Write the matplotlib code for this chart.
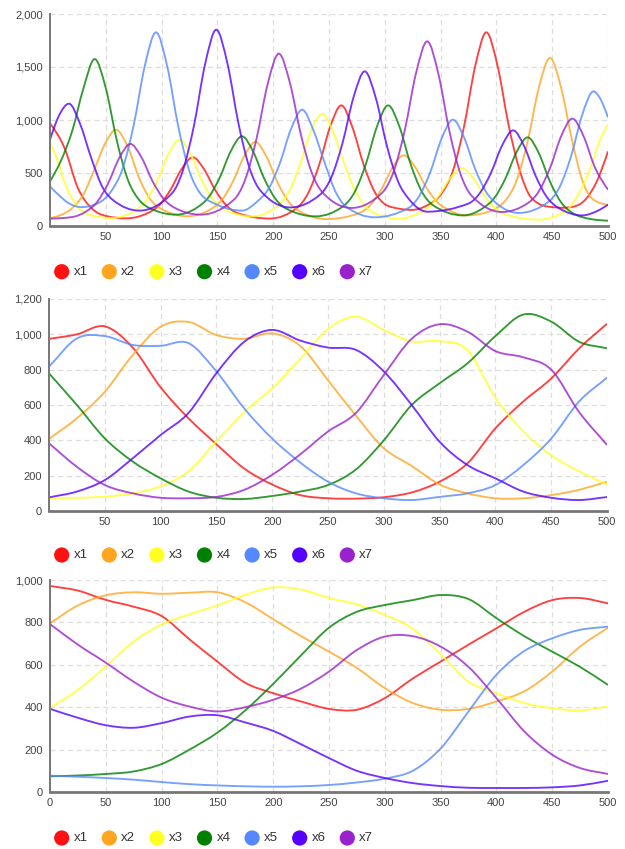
import numpy as np
import matplotlib
matplotlib.use("Agg")
import matplotlib.pyplot as plt
from matplotlib.path import Path
from matplotlib.patches import PathPatch
from matplotlib.ticker import FuncFormatter

plt.rcParams['font.family'] = ['Liberation Sans', 'DejaVu Sans']

names = ['x1', 'x2', 'x3', 'x4', 'x5', 'x6', 'x7']
colors = ['#ff1111', '#ffa520', '#ffff22', '#008000', '#5588ff', '#5500ff', '#9922cc']

########## chart 1 : peaks, each series has its own x points ##########
c1_x1_x = [0, 13, 25, 37, 50, 68, 88, 98, 108, 118, 128, 138, 148, 158, 168, 197, 221, 231, 241, 251, 261, 271,
           281, 291, 301, 312, 324, 338, 351, 361, 371, 381, 391, 401, 411, 421, 431, 445, 460, 470, 481, 490, 500]
c1_x1_y = [968, 736, 358, 170, 95, 72, 124, 197, 342, 538, 648, 536, 340, 195, 122, 70, 169, 303, 571, 935, 1138, 930,
           580, 320, 200, 165, 152, 195, 308, 519, 938, 1508, 1827, 1512, 949, 520, 270, 185, 172, 185, 264, 421, 704]

c1_x2_x = [0, 10, 20, 30, 40, 50, 59, 70, 80, 90, 100, 123, 144, 154, 164, 174, 184, 194, 204, 214, 224, 248,
           277, 287, 297, 307, 317, 327, 337, 347, 357, 373, 390, 408, 418, 428, 438, 448, 458, 468, 478, 488, 500]
c1_x2_y = [75, 105, 170, 300, 540, 790, 909, 740, 450, 250, 160, 92, 158, 246, 421, 659, 792, 654, 408, 227, 136, 65,
           122, 197, 348, 553, 667, 559, 366, 225, 153, 100, 125, 240, 427, 798, 1303, 1585, 1303, 798, 400, 240, 200]

c1_x3_x = [0, 6, 13, 25, 37, 55, 76, 86, 96, 106, 116, 126, 136, 146, 156, 181, 203, 213, 223, 233, 244,
           254, 264, 274, 284, 296, 313, 329, 339, 349, 359, 369, 379, 389, 399, 409, 438, 463, 473, 483, 493, 500]
c1_x3_y = [783, 640, 410, 180, 100, 75, 144, 238, 422, 674, 814, 677, 431, 250, 159, 91, 182, 304, 545, 873, 1057,
           880, 580, 320, 170, 100, 69, 114, 174, 294, 456, 547, 454, 289, 167, 106, 60, 150, 290, 510, 815, 960]

c1_x4_x = [0, 10, 20, 30, 40, 50, 60, 70, 80, 90, 113, 132, 142, 152, 162, 172, 182, 192, 202, 212, 238,
           263, 273, 283, 293, 303, 313, 323, 333, 343, 370, 388, 398, 408, 418, 428, 438, 448, 458, 468, 485, 500]
c1_x4_y = [421, 620, 900, 1300, 1575, 1300, 800, 430, 245, 165, 107, 176, 270, 454, 706, 846, 703, 446, 257, 162, 91,
           189, 321, 583, 939, 1138, 941, 588, 328, 198, 100, 169, 262, 446, 696, 836, 687, 419, 223, 124, 65, 50]

c1_x5_x = [0, 8, 16, 28, 42, 55, 65, 75, 85, 95, 105, 115, 125, 135, 150, 172, 186, 196, 206, 216, 226, 236,
           246, 256, 266, 291, 321, 331, 341, 351, 361, 371, 381, 391, 401, 420, 447, 457, 467, 477, 487, 492, 500]
c1_x5_y = [374, 290, 220, 178, 210, 331, 539, 952, 1513, 1827, 1507, 936, 515, 303, 200, 145, 234, 354, 592, 916, 1097, 904,
           600, 320, 177, 82, 169, 285, 515, 828, 1003, 836, 537, 317, 206, 123, 231, 375, 662, 1052, 1270, 1220, 1025]

c1_x6_x = [0, 8, 17, 27, 37, 47, 57, 80, 109, 119, 129, 139, 149, 159, 169, 179, 189, 215, 242, 252,
           262, 272, 282, 292, 302, 312, 322, 338, 375, 385, 395, 405, 415, 425, 435, 445, 455, 477, 490, 500]
c1_x6_y = [814, 1040, 1154, 962, 640, 367, 240, 145, 305, 521, 947, 1528, 1852, 1532, 961, 540, 328, 175, 296, 457,
           778, 1215, 1459, 1205, 751, 417, 249, 135, 212, 308, 498, 757, 902, 750, 477, 276, 175, 100, 140, 201]

c1_x7_x = [0, 20, 32, 42, 52, 62, 72, 82, 92, 102, 112, 135, 165, 175, 185, 195, 205, 215, 225, 235,
           245, 270, 298, 308, 318, 328, 338, 348, 358, 368, 378, 405, 428, 438, 448, 458, 468, 478, 488, 500]
c1_x7_y = [69, 85, 135, 224, 400, 640, 774, 647, 420, 254, 170, 107, 250, 441, 821, 1337, 1626, 1349, 854, 490,
           307, 170, 318, 516, 909, 1443, 1742, 1436, 889, 486, 283, 132, 215, 326, 546, 846, 1013, 850, 560, 343]

########## charts 2 and 3 : shared x ##########
x_grid = [0, 25, 50, 75, 100, 125, 150, 175, 200, 225, 250, 275, 300, 325, 350, 375, 400, 425, 450, 475, 500]

c2_x1 = [974, 1000, 1045, 925, 700, 525, 378, 240, 150, 90, 72, 70, 78, 105, 166, 270, 468, 620, 750, 920, 1060]
c2_x2 = [408, 525, 675, 883, 1043, 1070, 996, 975, 1005, 935, 740, 540, 355, 255, 150, 100, 72, 72, 90, 120, 166]
c2_x3 = [72, 75, 81, 100, 140, 225, 395, 560, 695, 860, 1030, 1100, 1025, 960, 962, 910, 640, 450, 315, 225, 150]
c2_x4 = [779, 600, 411, 280, 185, 110, 75, 68, 85, 110, 147, 235, 400, 600, 723, 836, 990, 1112, 1072, 958, 921]
c2_x5 = [817, 977, 990, 940, 935, 950, 790, 580, 410, 275, 166, 100, 72, 62, 80, 100, 147, 260, 410, 620, 755]
c2_x6 = [77, 110, 175, 298, 430, 555, 780, 958, 1025, 965, 925, 912, 790, 600, 392, 260, 185, 110, 75, 62, 79]
c2_x7 = [383, 250, 147, 100, 75, 72, 80, 120, 205, 320, 450, 555, 770, 975, 1057, 1015, 905, 870, 800, 560, 374]

c3_x1 = [972, 950, 906, 874, 830, 720, 615, 515, 466, 427, 392, 388, 443, 535, 615, 695, 772, 850, 905, 915, 890]
c3_x2 = [796, 880, 928, 942, 935, 940, 942, 895, 815, 735, 662, 585, 490, 420, 388, 392, 427, 475, 568, 686, 775]
c3_x3 = [396, 482, 592, 710, 790, 838, 880, 930, 965, 955, 915, 885, 835, 770, 650, 520, 466, 420, 395, 385, 403]
c3_x4 = [74, 78, 85, 97, 132, 200, 280, 385, 510, 645, 775, 850, 882, 905, 929, 910, 820, 735, 662, 590, 505]
c3_x5 = [77, 72, 66, 58, 47, 37, 31, 27, 25, 27, 33, 45, 63, 100, 205, 380, 553, 665, 725, 765, 780]
c3_x6 = [392, 350, 315, 303, 325, 356, 362, 328, 288, 225, 160, 100, 66, 42, 28, 20, 19, 19, 22, 31, 53]
c3_x7 = [792, 695, 610, 520, 445, 403, 380, 400, 435, 488, 568, 670, 733, 735, 686, 590, 443, 286, 176, 113, 85]


def bezier_path(xs, ys, m):
    # cubic hermite segments with tangents m, turned into a matplotlib path
    h = np.diff(xs)
    verts = [(xs[0], ys[0])]
    codes = [Path.MOVETO]
    for i in range(len(xs) - 1):
        dx = h[i] / 3
        verts += [(xs[i] + dx, ys[i] + m[i] * dx), (xs[i + 1] - dx, ys[i + 1] - m[i + 1] * dx), (xs[i + 1], ys[i + 1])]
        codes += [Path.CURVE4] * 3
    return Path(verts, codes)


def monotone_path(xs, ys):
    # like d3 curveMonotoneX
    xs = np.asarray(xs, float)
    ys = np.asarray(ys, float)
    h = np.diff(xs)
    s = np.diff(ys) / h
    n = len(xs)
    m = np.zeros(n)
    for i in range(1, n - 1):
        p = (s[i - 1] * h[i] + s[i] * h[i - 1]) / (h[i - 1] + h[i])
        m[i] = (np.sign(s[i - 1]) + np.sign(s[i])) * min(abs(s[i - 1]), abs(s[i]), 0.5 * abs(p))
    m[0] = (3 * s[0] - m[1]) / 2
    m[-1] = (3 * s[-1] - m[-2]) / 2
    return bezier_path(xs, ys, m)


def cardinal_path(xs, ys):
    # catmull-rom style tangents, smoother for the slow curves
    xs = np.asarray(xs, float)
    ys = np.asarray(ys, float)
    m = np.gradient(ys, xs)
    m[1:-1] = (ys[2:] - ys[:-2]) / (xs[2:] - xs[:-2])
    return bezier_path(xs, ys, m)


def setup(ax, ymax, ystep, xticks):
    ax.set_xlim(0, 500)
    ax.set_ylim(0, ymax)
    ax.set_xticks(xticks)
    ax.set_yticks(np.arange(0, ymax + 1, ystep))
    ax.yaxis.set_major_formatter(FuncFormatter(lambda v, _: f'{int(v):,}'))
    ax.grid(True, color='#dddddd', linestyle=(0, (4, 3)), lw=0.9)
    ax.set_axisbelow(True)
    ax.spines['top'].set_visible(False)
    ax.spines['right'].set_visible(False)
    ax.spines['left'].set_color('#777777')
    ax.spines['bottom'].set_color('#777777')
    ax.spines['left'].set_linewidth(1.4)
    ax.spines['bottom'].set_linewidth(2.0)
    ax.tick_params(length=0, labelsize=8, colors='#444444')
    ax.tick_params(axis='y', pad=5)
    ax.tick_params(axis='x', pad=4)


fig = plt.figure(figsize=(6.25, 8.49), dpi=100)

# overlay for the legends, in pixel units
lax = fig.add_axes([0, 0, 1, 1])
lax.set_xlim(0, 625)
lax.set_ylim(849, 0)
lax.axis('off')

W, H = 625, 849
ax1 = fig.add_axes([50 / W, 1 - 226 / H, 558 / W, 212 / H])
ax2 = fig.add_axes([49 / W, 1 - 511 / H, 558 / W, 212 / H])
ax3 = fig.add_axes([50 / W, 1 - 792 / H, 558 / W, 212 / H])

setup(ax1, 2000, 500, range(50, 501, 50))
setup(ax2, 1200, 200, range(50, 501, 50))
setup(ax3, 1000, 200, range(0, 501, 50))

c1_xs = [c1_x1_x, c1_x2_x, c1_x3_x, c1_x4_x, c1_x5_x, c1_x6_x, c1_x7_x]
c1_ys = [c1_x1_y, c1_x2_y, c1_x3_y, c1_x4_y, c1_x5_y, c1_x6_y, c1_x7_y]
for xs, ys, col in zip(c1_xs, c1_ys, colors):
    ax1.add_patch(PathPatch(monotone_path(xs, ys), fill=False, edgecolor=col, lw=1.35, alpha=0.8))

for ax, series in [(ax2, [c2_x1, c2_x2, c2_x3, c2_x4, c2_x5, c2_x6, c2_x7]),
                   (ax3, [c3_x1, c3_x2, c3_x3, c3_x4, c3_x5, c3_x6, c3_x7])]:
    for ys, col in zip(series, colors):
        ax.add_patch(PathPatch(cardinal_path(x_grid, ys), fill=False, edgecolor=col, lw=1.35, alpha=0.8))

# legends
for ly in [271.7, 555, 838]:
    for i in range(len(names)):
        cx = 61.7 + 47.6 * i
        lax.scatter(cx, ly, s=120, color=colors[i], edgecolors='none')
        lax.text(cx + 12, ly, names[i], fontsize=9.5, color='#333333', va='center', ha='left')

fig.savefig('out.png', dpi=100)
